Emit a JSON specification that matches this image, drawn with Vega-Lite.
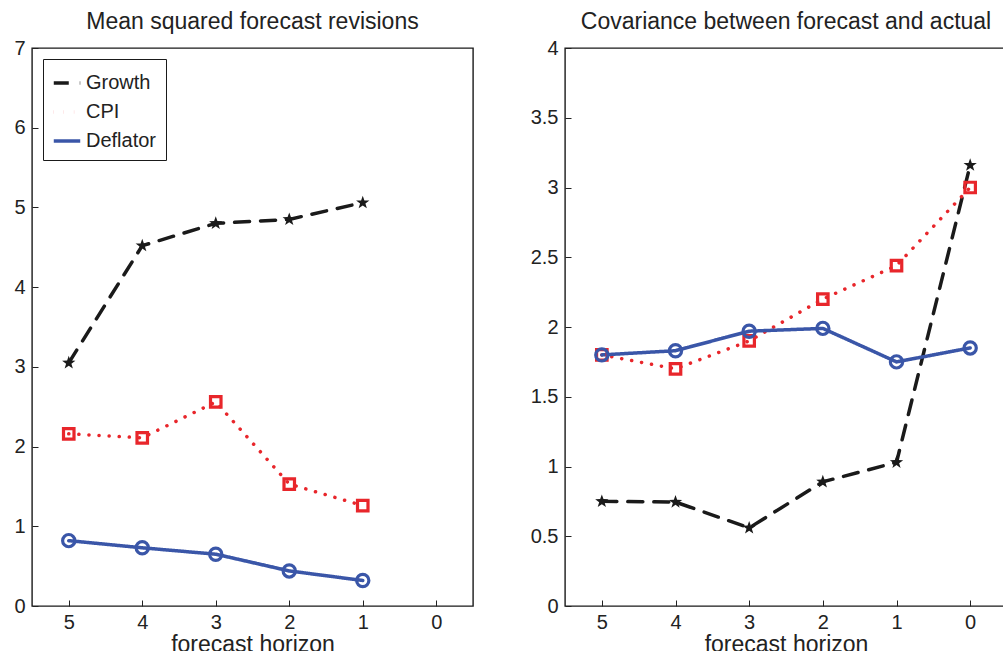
{
  "$schema": "https://vega.github.io/schema/vega-lite/v6.json",
  "padding": {"left": 13, "top": 10, "right": 0, "bottom": 0},
  "datasets": {
    "msr": [
      {"h": 5, "series": "Growth", "v": 3.05},
      {"h": 4, "series": "Growth", "v": 4.52},
      {"h": 3, "series": "Growth", "v": 4.80},
      {"h": 2, "series": "Growth", "v": 4.85},
      {"h": 1, "series": "Growth", "v": 5.06},
      {"h": 5, "series": "CPI", "v": 2.16},
      {"h": 4, "series": "CPI", "v": 2.11},
      {"h": 3, "series": "CPI", "v": 2.56},
      {"h": 2, "series": "CPI", "v": 1.53},
      {"h": 1, "series": "CPI", "v": 1.26},
      {"h": 5, "series": "Deflator", "v": 0.82},
      {"h": 4, "series": "Deflator", "v": 0.73},
      {"h": 3, "series": "Deflator", "v": 0.65},
      {"h": 2, "series": "Deflator", "v": 0.44},
      {"h": 1, "series": "Deflator", "v": 0.32}
    ],
    "cov": [
      {"h": 5, "series": "Growth", "v": 0.75},
      {"h": 4, "series": "Growth", "v": 0.745},
      {"h": 3, "series": "Growth", "v": 0.56},
      {"h": 2, "series": "Growth", "v": 0.89},
      {"h": 1, "series": "Growth", "v": 1.03},
      {"h": 0, "series": "Growth", "v": 3.16},
      {"h": 5, "series": "CPI", "v": 1.80},
      {"h": 4, "series": "CPI", "v": 1.70},
      {"h": 3, "series": "CPI", "v": 1.90},
      {"h": 2, "series": "CPI", "v": 2.20},
      {"h": 1, "series": "CPI", "v": 2.44},
      {"h": 0, "series": "CPI", "v": 3.00},
      {"h": 5, "series": "Deflator", "v": 1.80},
      {"h": 4, "series": "Deflator", "v": 1.83},
      {"h": 3, "series": "Deflator", "v": 1.97},
      {"h": 2, "series": "Deflator", "v": 1.99},
      {"h": 1, "series": "Deflator", "v": 1.75},
      {"h": 0, "series": "Deflator", "v": 1.85}
    ]
  },
  "config": {
    "font": "Liberation Sans",
    "view": {"stroke": "#1a1a1a", "strokeWidth": 1.4},
    "axis": {
      "domain": false, "grid": false, "tickSize": -6, "tickColor": "#222", "tickWidth": 1,
      "labelFontSize": 20, "labelColor": "#222", "labelFont": "Liberation Sans",
      "titleFontSize": 23, "titleFontWeight": "normal", "titleColor": "#222", "titleFont": "Liberation Sans"
    },
    "title": {"fontSize": 23, "fontWeight": "normal", "color": "#222", "font": "Liberation Sans"}
  },
  "spacing": 55,
  "hconcat": [
    {
      "width": 441, "height": 558,
      "title": "Mean squared forecast revisions",
      "data": {"name": "msr"},
      "layer": [
        {
          "mark": {"type": "line", "strokeWidth": 3.5, "strokeCap": "round"},
          "encoding": {
            "x": {"field": "h", "type": "quantitative", "scale": {"domain": [5.5, -0.5], "nice": false, "zero": false},
                  "axis": {"values": [5, 4, 3, 2, 1, 0], "title": "forecast horizon", "labelPadding": 12, "titlePadding": 1, "labelExpr": "'' + datum.value"}},
            "y": {"field": "v", "type": "quantitative", "scale": {"domain": [0, 7], "nice": false},
                  "axis": {"values": [0, 1, 2, 3, 4, 5, 6, 7], "title": null, "labelPadding": 13, "labelExpr": "'' + datum.value"}},
            "color": {"field": "series", "type": "nominal",
              "scale": {"domain": ["Growth", "CPI", "Deflator"], "range": ["#1a1a1a", "#e8262b", "#3a56a8"]},
              "legend": {"title": null, "orient": "top-left", "offset": 11, "labelFontSize": 20, "labelColor": "#222",
                         "strokeColor": "#1a1a1a", "fillColor": "white", "padding": 9,
                         "symbolType": "stroke", "symbolStrokeWidth": 3.5, "symbolSize": 700, "rowPadding": 4}},
            "strokeDash": {"field": "series", "type": "nominal",
              "scale": {"domain": ["Growth", "CPI", "Deflator"], "range": [[15, 11], [0.1, 10], [1, 0]]}, "legend": null}
          }
        },
        {
          "transform": [{"filter": "datum.series === 'Growth'"}],
          "mark": {"type": "point", "shape": "M0,-1L0.235,-0.324L0.951,-0.309L0.38,0.124L0.588,0.809L0,0.4L-0.588,0.809L-0.38,0.124L-0.951,-0.309L-0.235,-0.324Z", "filled": true, "color": "#1a1a1a", "size": 196, "opacity": 1},
          "encoding": {"x": {"field": "h", "type": "quantitative"}, "y": {"field": "v", "type": "quantitative"}}
        },
        {
          "transform": [{"filter": "datum.series === 'CPI'"}],
          "mark": {"type": "point", "shape": "square", "filled": false, "color": "#e8262b", "strokeWidth": 3.2, "size": 110, "opacity": 1},
          "encoding": {"x": {"field": "h", "type": "quantitative"}, "y": {"field": "v", "type": "quantitative"}}
        },
        {
          "transform": [{"filter": "datum.series === 'Deflator'"}],
          "mark": {"type": "point", "shape": "circle", "filled": false, "color": "#3a56a8", "strokeWidth": 3.2, "size": 150, "opacity": 1},
          "encoding": {"x": {"field": "h", "type": "quantitative"}, "y": {"field": "v", "type": "quantitative"}}
        }
      ]
    },
    {
      "width": 442, "height": 558,
      "title": "Covariance between forecast and actual",
      "data": {"name": "cov"},
      "layer": [
        {
          "mark": {"type": "line", "strokeWidth": 3.5, "strokeCap": "round"},
          "encoding": {
            "x": {"field": "h", "type": "quantitative", "scale": {"domain": [5.5, -0.5], "nice": false, "zero": false},
                  "axis": {"values": [5, 4, 3, 2, 1, 0], "title": "forecast horizon", "labelPadding": 12, "titlePadding": 1, "labelExpr": "'' + datum.value"}},
            "y": {"field": "v", "type": "quantitative", "scale": {"domain": [0, 4], "nice": false},
                  "axis": {"values": [0, 0.5, 1, 1.5, 2, 2.5, 3, 3.5, 4], "title": null, "labelPadding": 13, "labelExpr": "'' + datum.value"}},
            "color": {"field": "series", "type": "nominal",
              "scale": {"domain": ["Growth", "CPI", "Deflator"], "range": ["#1a1a1a", "#e8262b", "#3a56a8"]},
              "legend": {"title": null, "orient": "top-left", "offset": 10, "labelFontSize": 20, "labelColor": "#222",
                         "strokeColor": "#1a1a1a", "fillColor": "white", "padding": 9,
                         "symbolType": "stroke", "symbolStrokeWidth": 3.5, "symbolSize": 700, "rowPadding": 4}},
            "strokeDash": {"field": "series", "type": "nominal",
              "scale": {"domain": ["Growth", "CPI", "Deflator"], "range": [[15, 11], [0.1, 10], [1, 0]]}, "legend": null}
          }
        },
        {
          "transform": [{"filter": "datum.series === 'Growth'"}],
          "mark": {"type": "point", "shape": "M0,-1L0.235,-0.324L0.951,-0.309L0.38,0.124L0.588,0.809L0,0.4L-0.588,0.809L-0.38,0.124L-0.951,-0.309L-0.235,-0.324Z", "filled": true, "color": "#1a1a1a", "size": 196, "opacity": 1},
          "encoding": {"x": {"field": "h", "type": "quantitative"}, "y": {"field": "v", "type": "quantitative"}}
        },
        {
          "transform": [{"filter": "datum.series === 'CPI'"}],
          "mark": {"type": "point", "shape": "square", "filled": false, "color": "#e8262b", "strokeWidth": 3.2, "size": 110, "opacity": 1},
          "encoding": {"x": {"field": "h", "type": "quantitative"}, "y": {"field": "v", "type": "quantitative"}}
        },
        {
          "transform": [{"filter": "datum.series === 'Deflator'"}],
          "mark": {"type": "point", "shape": "circle", "filled": false, "color": "#3a56a8", "strokeWidth": 3.2, "size": 150, "opacity": 1},
          "encoding": {"x": {"field": "h", "type": "quantitative"}, "y": {"field": "v", "type": "quantitative"}}
        }
      ]
    }
  ]
}
